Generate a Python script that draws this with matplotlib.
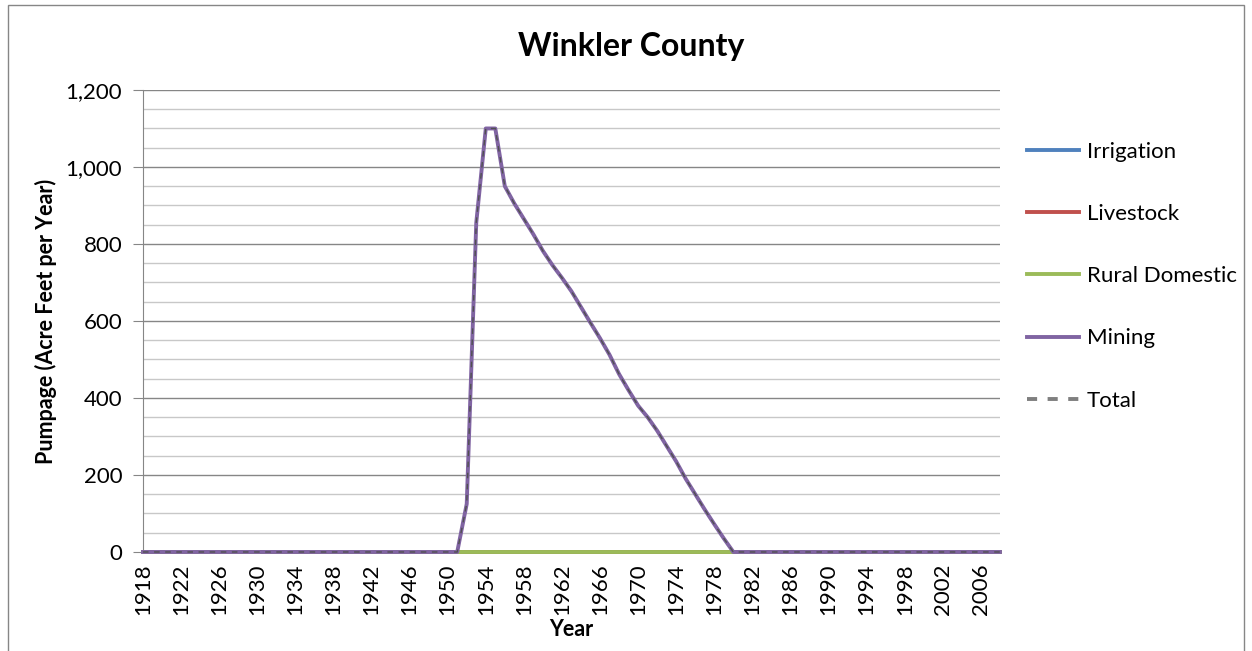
import matplotlib.pyplot as plt
from matplotlib.ticker import FuncFormatter, MultipleLocator
from matplotlib.patches import Rectangle
from matplotlib.lines import Line2D
import numpy as np

plt.rcParams['font.family'] = ['Lato', 'DejaVu Sans']

years = np.arange(1918, 2009)

# mining pumpage, acre-feet per year, only nonzero 1952-1979
mining_years = [1951, 1952, 1953, 1954, 1955, 1956, 1957, 1958, 1959, 1960,
                1961, 1962, 1963, 1964, 1965, 1966, 1967, 1968, 1969, 1970,
                1971, 1972, 1973, 1974, 1975, 1976, 1977, 1978, 1979, 1980]
mining_vals = [0, 125, 855, 1100, 1100, 950, 905, 865, 825, 782,
               745, 712, 677, 636, 595, 555, 512, 462, 420, 380,
               350, 315, 275, 235, 190, 150, 110, 72, 35, 0]

irrigation = np.zeros(len(years))
livestock = np.zeros(len(years))
rural_domestic = np.zeros(len(years))
mining = np.zeros(len(years))
for y, v in zip(mining_years, mining_vals):
    mining[y - 1918] = v
total = irrigation + livestock + rural_domestic + mining

fig = plt.figure(figsize=(12.52, 6.51), dpi=100)
ax = fig.add_axes([0.1142, 0.1521, 0.6845, 0.7097])

# lines sit on the zero axis, so keep them above the spine and unclipped
kw = dict(lw=2.8, clip_on=False, zorder=3)
ax.plot(years, irrigation, color='#4F81BD', label='Irrigation', **kw)
ax.plot(years, livestock, color='#C0504D', label='Livestock', **kw)
ax.plot(years, rural_domestic, color='#9BBB59', label='Rural Domestic', **kw)
ax.plot(years, mining, color='#8064A2', label='Mining', **kw)
ax.plot(years, total, color='#505050', lw=1.0, ls=(0, (4, 4)), clip_on=False, zorder=4)

ax.set_xlim(1918, 2008)
ax.set_ylim(0, 1200)
ax.set_xticks(np.arange(1918, 2007, 4))
ax.tick_params(axis='x', length=0, labelsize=16, rotation=90, pad=8)
ax.yaxis.set_major_locator(MultipleLocator(200))
ax.yaxis.set_minor_locator(MultipleLocator(50))
ax.yaxis.set_major_formatter(FuncFormatter(lambda v, p: f'{int(v):,}'))
ax.tick_params(axis='y', which='major', length=7, color='#868686', labelsize=16, pad=8)
ax.tick_params(axis='y', which='minor', length=0)

ax.grid(axis='y', which='major', color='#868686', lw=1)
ax.grid(axis='y', which='minor', color='#c8c8c8', lw=1)
ax.set_axisbelow(True)

for s in ['top', 'right']:
    ax.spines[s].set_visible(False)
ax.spines['left'].set_color('#868686')
ax.spines['bottom'].set_color('#868686')

ax.set_ylabel('Pumpage (Acre Feet per Year)', fontsize=15.5, fontweight='bold', labelpad=6)
ax.set_xlabel('Year', fontsize=15.5, fontweight='bold', labelpad=3)
fig.text(0.504, 0.929, 'Winkler County', ha='center', va='center',
         fontsize=23, fontweight='bold')

handles, labels = ax.get_legend_handles_labels()
handles.append(Line2D([], [], color='#7f7f7f', lw=2.8, ls=(0, (2.6, 2.7))))
labels.append('Total')
fig.legend(handles, labels, loc='upper left', bbox_to_anchor=(0.804, 0.813), frameon=False,
           fontsize=16, handlelength=2.35, handletextpad=0.35, labelspacing=1.9)

# outer chart border
fig.patches.append(Rectangle((0.006, -0.01), 0.988, 1.002, transform=fig.transFigure,
                             fill=False, edgecolor='#868686', lw=1))

fig.savefig('out.png', dpi=100)
